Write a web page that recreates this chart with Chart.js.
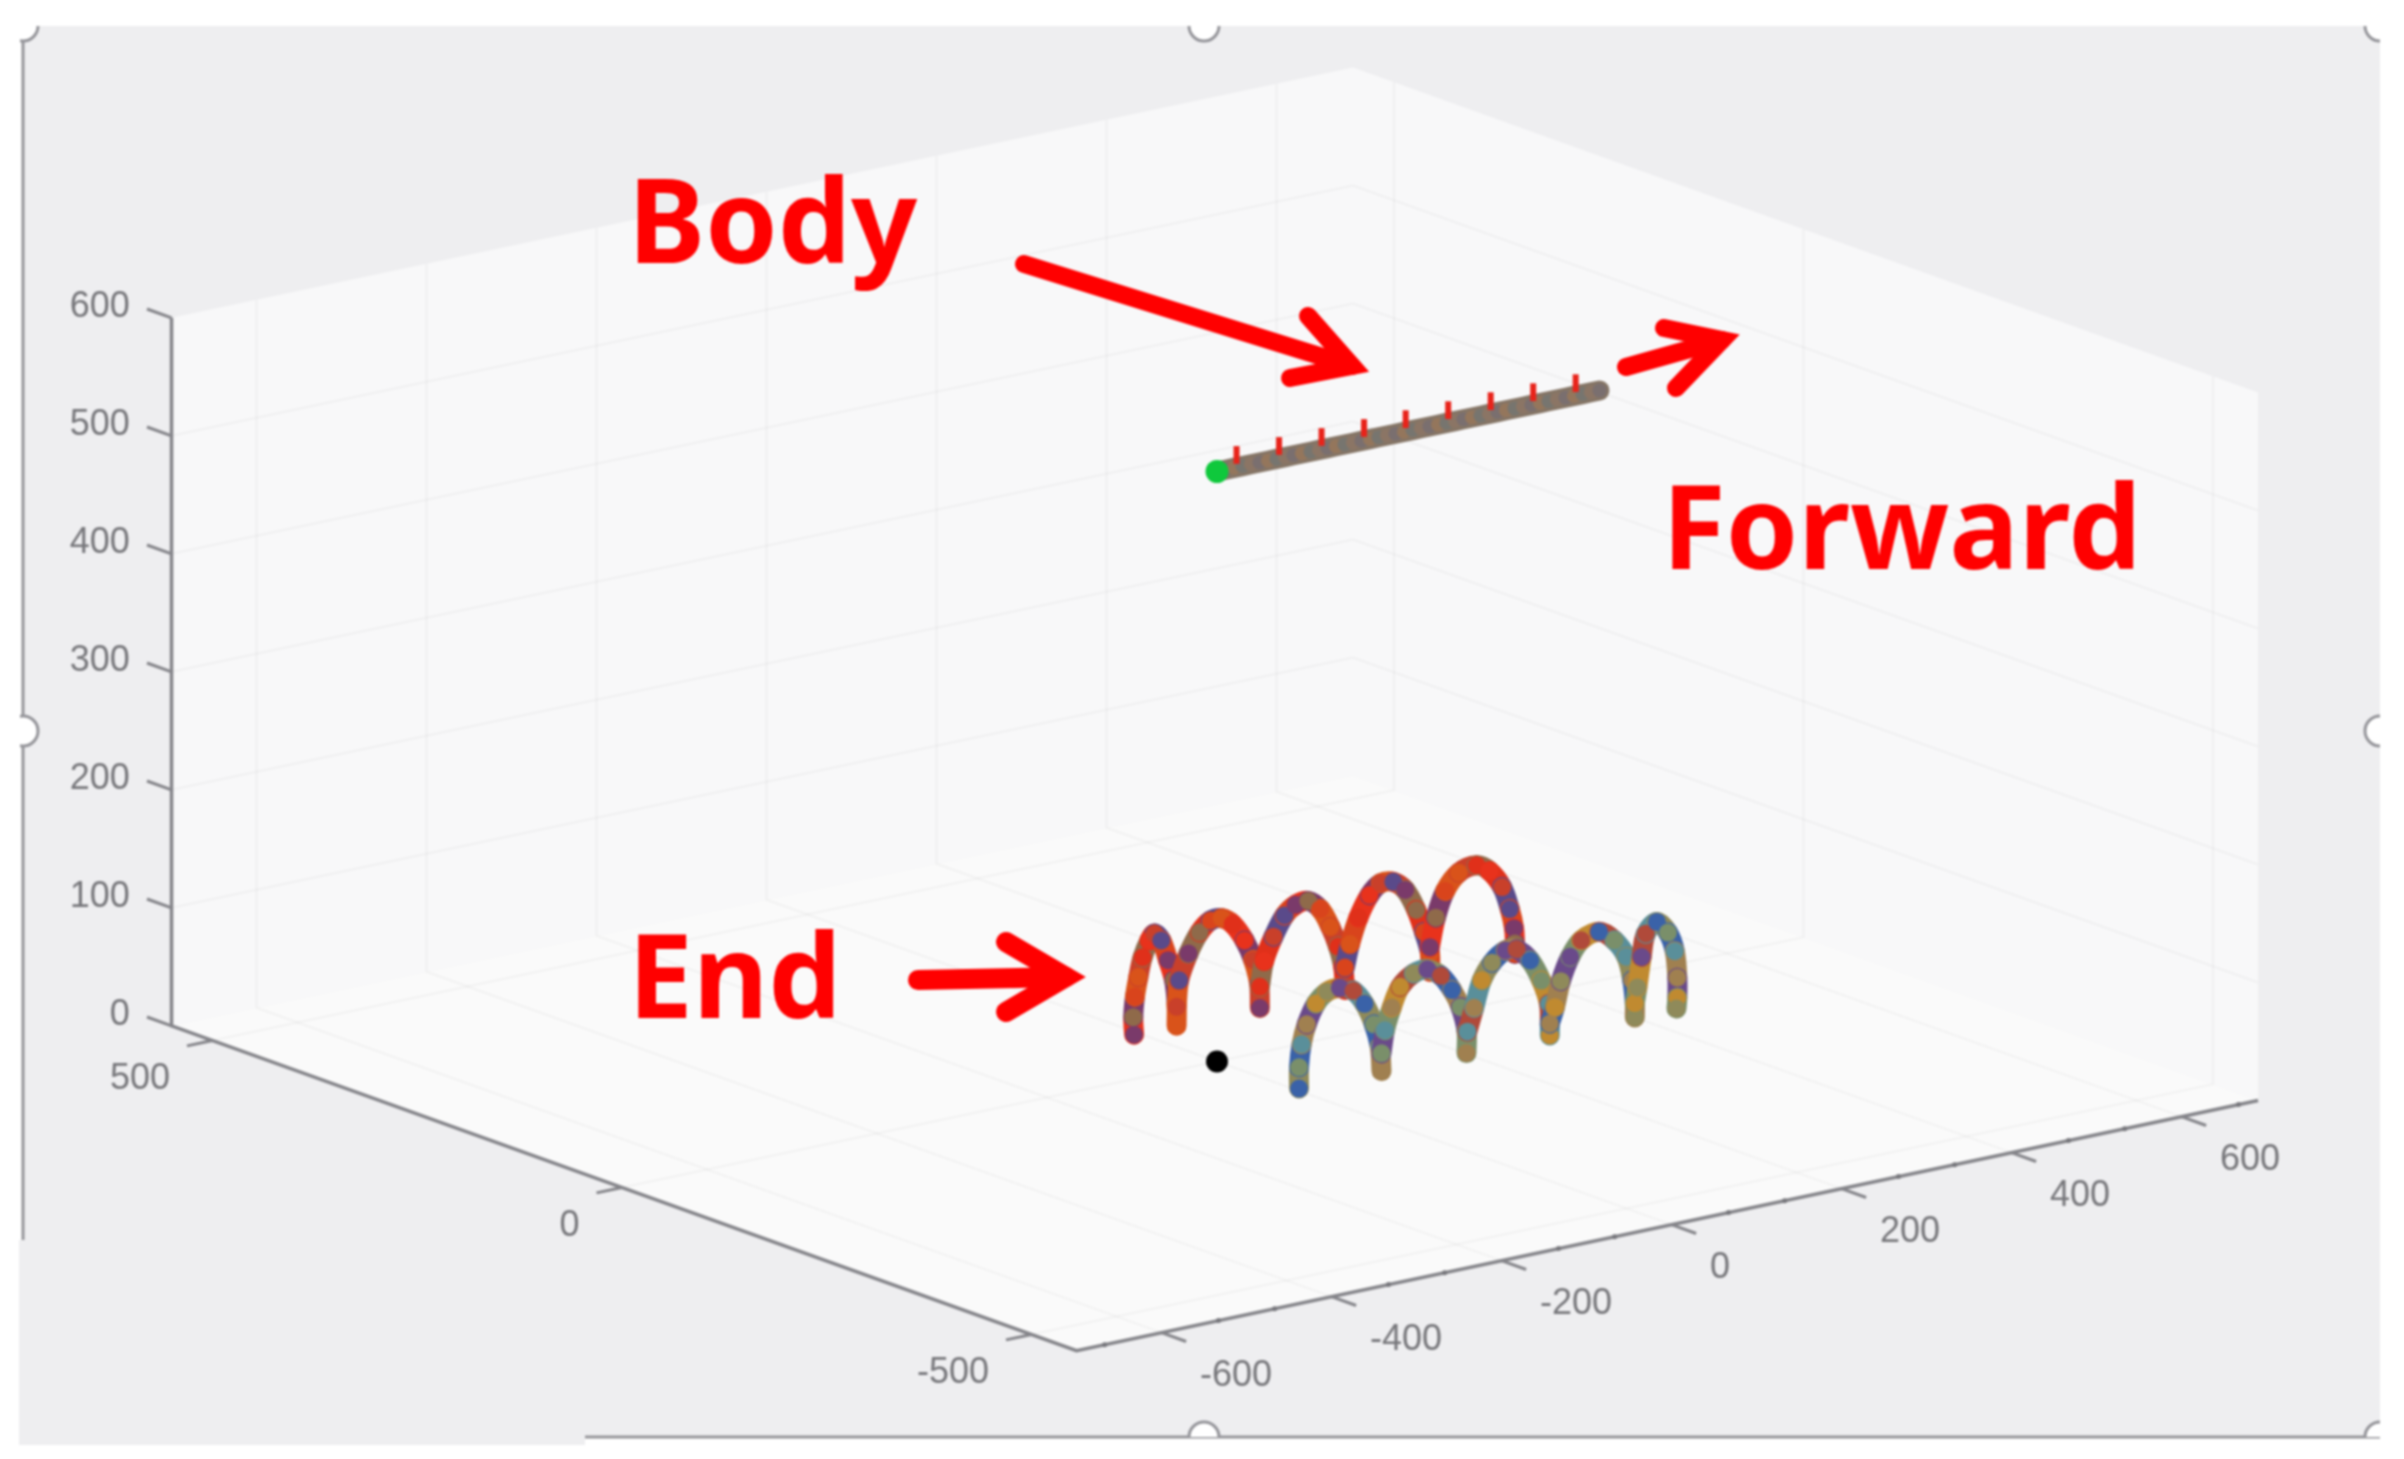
<!DOCTYPE html>
<html>
<head>
<meta charset="utf-8">
<title>Body / End trajectory</title>
<script src="https://cdn.jsdelivr.net/npm/chart.js@4"></script>
<style>
  html, body { margin: 0; padding: 0; background: #fff; }
  canvas { display: block; filter: blur(0.9px); }
</style>
</head>
<body>
<canvas id="grafico" width="2404" height="1459"></canvas>
<script>
// axis ticks (data units)
const xTicks = [-600, -400, -200, 0, 200, 400, 600];
const xMinorTicks = [-667, -533, -467, -333, -267, -133, -67, 67, 133, 267, 333, 467, 533, 667];
const yTicks = [-500, 0, 500];
const zTicks = [0, 100, 200, 300, 400, 500, 600];

// body line, high up, and the ticks sitting on it
const bodyU = [0, 10, 20, 30, 40, 50, 60, 70, 80, 90, 100, 110, 120, 130, 140, 150, 160, 170, 180, 190, 200, 210, 220, 230, 240, 250, 260, 270, 280, 290, 300, 310, 320, 330, 340, 350, 360, 370, 380, 390, 400, 410, 420, 430, 440, 450];
const bodyTickU = [23, 73, 123, 173, 222, 272, 322, 372, 422];
const bodyV = 0;
const bodyZ = 500;

// far foot, one list per step
const backV = 95;
const backU = [
  [-6, -7, -5, -1, 4, 12, 18, 26, 34, 41, 44, 44],
  [44, 47, 58, 71, 84, 97, 110, 124, 134, 141, 142],
  [142, 147, 158, 171, 184, 199, 213, 225, 234, 240, 242],
  [242, 248, 258, 271, 284, 299, 313, 326, 335, 342, 342],
  [342, 349, 360, 376, 397, 412, 427, 436, 441, 442, 442]
];
const backZ = [
  [0, 15, 32, 48, 64, 77, 82, 75, 57, 39, 19, 0],
  [16, 38, 59, 75, 83, 83, 76, 60, 42, 21, 0],
  [18, 39, 58, 74, 81, 82, 73, 56, 38, 20, 0],
  [19, 38, 59, 76, 84, 83, 74, 55, 35, 16, 0],
  [21, 45, 66, 79, 82, 75, 59, 39, 22, 9, 0]
];

// near foot
const frontV = -95;
const frontU = [
  [5, 5, 8, 14, 25, 38, 53, 69, 82, 93, 100, 102],
  [102, 106, 114, 124, 140, 156, 172, 185, 195, 202, 202],
  [203, 211, 220, 232, 248, 261, 277, 290, 299, 300, 300],
  [300, 306, 313, 324, 337, 358, 376, 390, 397, 400, 400],
  [400, 403, 408, 413, 426, 439, 447, 450, 450, 449]
];
const frontZ = [
  [0, 18, 37, 53, 69, 77, 78, 73, 60, 41, 21, 0],
  [15, 34, 52, 68, 77, 78, 70, 56, 40, 19, 0],
  [18, 37, 59, 72, 80, 79, 67, 48, 27, 10, 0],
  [10, 23, 44, 63, 75, 79, 69, 53, 32, 12, 0],
  [12, 25, 50, 69, 77, 66, 49, 26, 9, 0]
];

const backColors = ['#e8321c', '#7a3a6a', '#d9531a', '#c9402a', '#8f6a4a', '#e0301a', '#5a4a8a', '#d9441c'];
const frontColors = ['#8f8a5a', '#3a62a8', '#a08050', '#6a4a8a', '#7a8f6a', '#c08a30', '#b04a3a', '#5a8f9a'];
const bodyColors = ['#8b7565', '#7a6f6f', '#94765c', '#77756f'];

// limits of the 3D box
const xMin = -700, xMax = 690, yMin = -555, yMax = 550, zMax = 600;

// MATLAB-like view, orthographic, gives picture units for the hidden scales
function proj(u, v, z) {
  return { x: 1217 + 0.85 * u - 0.819 * v, y: 1061.5 - 0.18 * u - 0.294 * v - 1.18 * z };
}

function linha(pts, cor, largura) {
  return { data: pts, showLine: true, borderColor: cor, borderWidth: largura, pointRadius: 0, tension: 0 };
}
function parede(pts, cor) {
  return { data: pts, showLine: true, borderWidth: 0, borderColor: cor, pointRadius: 0, backgroundColor: cor, fill: 'shape', tension: 0 };
}

const grade = 'rgba(40,40,50,0.04)';
const eixo = '#85858a';
const conjuntos = [];

// walls and floor
conjuntos.push(parede([proj(xMin, yMax, 0), proj(xMax, yMax, 0), proj(xMax, yMax, zMax), proj(xMin, yMax, zMax)], '#f8f8f9'));
conjuntos.push(parede([proj(xMax, yMax, 0), proj(xMax, yMin, 0), proj(xMax, yMin, zMax), proj(xMax, yMax, zMax)], '#f8f8f9'));
conjuntos.push(parede([proj(xMin, yMax, 0), proj(xMin, yMin, 0), proj(xMax, yMin, 0), proj(xMax, yMax, 0)], '#fafafa'));

// grid
xTicks.forEach(u => {
  conjuntos.push(linha([proj(u, yMin, 0), proj(u, yMax, 0), proj(u, yMax, zMax)], grade, 2));
});
yTicks.forEach(v => {
  conjuntos.push(linha([proj(xMin, v, 0), proj(xMax, v, 0), proj(xMax, v, zMax)], grade, 2));
});
zTicks.slice(1, -1).forEach(z => {
  conjuntos.push(linha([proj(xMin, yMax, z), proj(xMax, yMax, z), proj(xMax, yMin, z)], grade, 2));
});

// axes
conjuntos.push(linha([proj(xMin, yMax, zMax), proj(xMin, yMax, 0), proj(xMin, yMin, 0), proj(xMax, yMin, 0)], eixo, 3.5));
xTicks.forEach(u => conjuntos.push(linha([proj(u, yMin, 0), proj(u, yMin - 30, 0)], eixo, 3)));
yTicks.forEach(v => conjuntos.push(linha([proj(xMin, v, 0), proj(xMin - 30, v, 0)], eixo, 3)));
zTicks.forEach(z => conjuntos.push(linha([proj(xMin, yMax, z), proj(xMin, yMax + 30, z)], eixo, 3)));
conjuntos.push({ data: xMinorTicks.map(u => proj(u, yMin, 0)), showLine: false, pointRadius: 2.5, pointBackgroundColor: '#77777c', pointBorderWidth: 0 });

// feet
function passo(us, zs, v, cores, desloc) {
  return {
    data: us.map((u, i) => proj(u, v, zs[i])),
    showLine: true,
    tension: 0.35,
    borderWidth: 20,
    borderCapStyle: 'round',
    borderJoinStyle: 'round',
    borderColor: cores[desloc % cores.length],
    segment: { borderColor: ctx => cores[(ctx.p0DataIndex + desloc) % cores.length] },
    pointRadius: 9,
    pointBorderWidth: 0,
    pointBackgroundColor: us.map((u, i) => cores[(i * 3 + desloc + 1) % cores.length])
  };
}
backU.forEach((us, i) => conjuntos.push(passo(us, backZ[i], backV, backColors, i * 2)));
frontU.forEach((us, i) => conjuntos.push(passo(us, frontZ[i], frontV, frontColors, i * 3)));

// body
conjuntos.push({
  data: bodyU.map(u => proj(u, bodyV, bodyZ)),
  showLine: true,
  borderColor: '#857566',
  borderWidth: 20,
  borderCapStyle: 'round',
  tension: 0,
  pointRadius: 7,
  pointBorderWidth: 0,
  pointBackgroundColor: bodyU.map((u, i) => bodyColors[i % bodyColors.length])
});
bodyTickU.forEach(u => conjuntos.push(linha([proj(u, bodyV, bodyZ + 3), proj(u, bodyV, bodyZ + 18)], '#e8231a', 6)));

// start of body and origin of the feet
conjuntos.push({ data: [proj(0, 0, bodyZ)], showLine: false, pointRadius: 11.5, pointBorderWidth: 0, pointBackgroundColor: '#0fc83c' });
conjuntos.push({ data: [proj(0, 0, 0)], showLine: false, pointRadius: 11, pointBorderWidth: 0, pointBackgroundColor: '#000000' });

// screenshot frame behind the plot, with the resize handles of the figure window
const moldura = {
  id: 'moldura',
  beforeDraw(chart) {
    const c = chart.ctx;
    c.save();
    c.fillStyle = '#ffffff';
    c.fillRect(0, 0, 2404, 1459);
    c.fillStyle = '#eeeef0';
    c.fillRect(23, 26, 2357, 1411);
    c.fillRect(19, 1240, 566, 205);
    c.strokeStyle = '#95959a';
    c.lineWidth = 3;
    c.beginPath();
    c.moveTo(23, 26);
    c.lineTo(23, 1240);
    c.moveTo(585, 1437);
    c.lineTo(2380, 1437);
    c.stroke();
    c.beginPath();
    c.rect(20, 26, 2360, 1411);
    c.clip();
    [[23, 26], [1204, 26], [2380, 26], [23, 731], [2380, 731], [1204, 1437], [2380, 1437]].forEach(p => {
      c.beginPath();
      c.arc(p[0], p[1], 15, 0, Math.PI * 2);
      c.fillStyle = '#ffffff';
      c.fill();
      c.stroke();
    });
    c.restore();
  }
};

// tick labels and the red notes drawn over the plot
const rotulos = {
  id: 'rotulos',
  afterDatasetsDraw(chart) {
    const c = chart.ctx;
    const sx = chart.scales.x, sy = chart.scales.y;
    const escreve = (txt, p, alinha) => {
      c.textAlign = alinha;
      c.fillText(txt, sx.getPixelForValue(p.x), sy.getPixelForValue(p.y));
    };
    c.save();
    c.fillStyle = '#77777b';
    c.font = '36px "Liberation Sans"';
    c.textBaseline = 'middle';
    zTicks.forEach(z => escreve(String(z), proj(xMin, yMax + 51, z - 4), 'right'));
    yTicks.forEach(v => escreve(String(v), proj(xMin - 50, v, -25), 'right'));
    xTicks.forEach(u => escreve(String(u), proj(u, yMin - 47, -25), 'left'));

    c.fillStyle = '#ff0000';
    c.font = 'bold 116px "Noto Sans"';
    c.textBaseline = 'alphabetic';
    escreve('Body', { x: 628, y: 263 }, 'left');
    escreve('Forward', { x: 1662, y: 569 }, 'left');
    escreve('End', { x: 628, y: 1018 }, 'left');

    // arrows
    c.strokeStyle = '#ff0000';
    c.lineCap = 'round';
    c.lineJoin = 'miter';
    const seta = (ini, tip, b1, b2, larg) => {
      c.lineWidth = larg;
      c.beginPath();
      c.moveTo(sx.getPixelForValue(ini[0]), sy.getPixelForValue(ini[1]));
      c.lineTo(sx.getPixelForValue(tip[0]), sy.getPixelForValue(tip[1]));
      c.stroke();
      c.beginPath();
      c.moveTo(sx.getPixelForValue(b1[0]), sy.getPixelForValue(b1[1]));
      c.lineTo(sx.getPixelForValue(tip[0]), sy.getPixelForValue(tip[1]));
      c.lineTo(sx.getPixelForValue(b2[0]), sy.getPixelForValue(b2[1]));
      c.stroke();
    };
    seta([1024, 264], [1352, 366], [1308, 316], [1290, 378], 18);
    seta([1626, 367], [1722, 340], [1664, 328], [1676, 388], 18);
    seta([918, 980], [1066, 977], [1006, 942], [1006, 1012], 20);
    c.restore();
  }
};

document.addEventListener('DOMContentLoaded', function () {
  new Chart(document.getElementById('grafico'), {
    type: 'scatter',
    data: { datasets: conjuntos.slice().reverse() },
    plugins: [moldura, rotulos],
    options: {
      responsive: false,
      animation: false,
      events: [],
      layout: { padding: 0, autoPadding: false },
      plugins: { legend: { display: false }, tooltip: { enabled: false }, title: { display: false } },
      scales: {
        x: { type: 'linear', min: 0, max: 2404, display: false },
        y: { type: 'linear', min: 0, max: 1459, reverse: true, display: false }
      }
    }
  });
});
</script>
</body>
</html>
